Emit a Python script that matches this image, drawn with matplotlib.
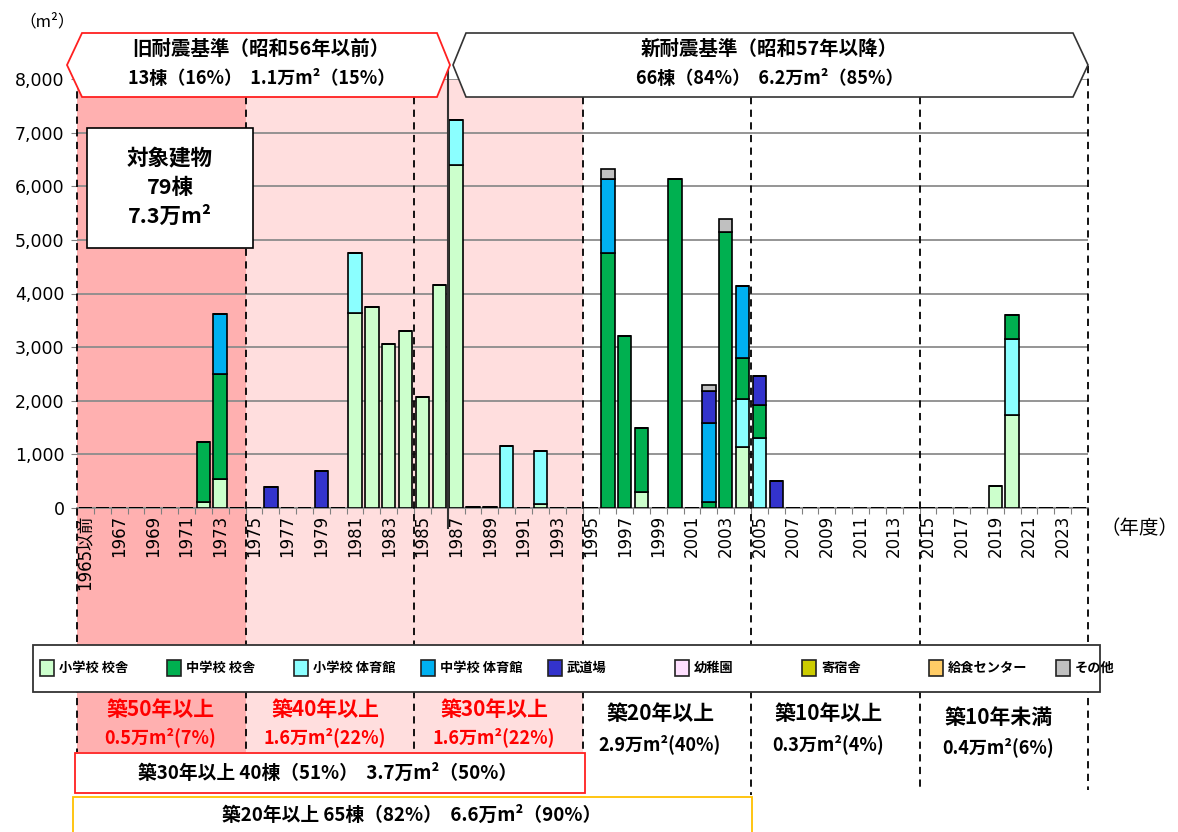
import matplotlib
matplotlib.use("Agg")
import matplotlib.pyplot as plt
from matplotlib.patches import Rectangle, Polygon
from matplotlib.lines import Line2D
import matplotlib.transforms as mtransforms
import numpy as np

plt.rcParams['font.family'] = ['Noto Sans CJK JP', 'DejaVu Sans']

W, H = 1178, 832

# ---------------- data ----------------
years = ["1965以前"] + [str(y) for y in range(1966, 2025)]
tick_labels = years[::2]

series_names = ["小学校 校舎", "中学校 校舎", "小学校 体育館", "中学校 体育館", "武道場",
                "幼稚園", "寄宿舎", "給食センター", "その他"]
series_colors = ["#CCFFCC", "#00B050", "#8BFFFF", "#00B0F0", "#3333CC",
                 "#FFE0FF", "#CCCC00", "#FFCC66", "#C0C0C0"]

sho_kousha = {"1972": 117, "1973": 545, "1981": 3640, "1982": 3750, "1983": 3050,
              "1984": 3300, "1985": 2075, "1986": 4150, "1987": 6390, "1988": 25,
              "1989": 25, "1992": 75, "1998": 290, "2004": 1130, "2019": 415, "2020": 1735}
chu_kousha = {"1972": 1115, "1973": 1955, "1996": 4760, "1997": 3200, "1998": 1195,
              "2000": 6135, "2002": 110, "2003": 5155, "2004": 775, "2005": 630, "2020": 435}
sho_taiiku = {"1981": 1120, "1987": 840, "1990": 1165, "1992": 990, "2004": 900,
              "2005": 1300, "2020": 1425}
chu_taiiku = {"1973": 1115, "1996": 1375, "2002": 1480, "2004": 1330}
budojo = {"1976": 400, "1979": 695, "2002": 590, "2005": 530, "2006": 505}
youchien = {}
kishukusha = {}
kyushoku = {}
sonota = {"1996": 185, "2002": 110, "2003": 235}

series_data = [sho_kousha, chu_kousha, sho_taiiku, chu_taiiku, budojo,
               youchien, kishukusha, kyushoku, sonota]
# stacking order bottom -> top
stack_order = [0, 2, 1, 3, 4, 5, 6, 7, 8]

# ---------------- figure ----------------
fig = plt.figure(figsize=(W / 100, H / 100), dpi=100)
ax = fig.add_axes([77 / W, 1 - 508 / H, 1011 / W, 429 / H])
ax.patch.set_visible(False)


def fx(p):
    return p / W


def fy(p):
    return 1 - p / H


x = np.arange(len(years))
bottom = np.zeros(len(years))
for si in stack_order:
    vals = np.array([series_data[si].get(y, 0) for y in years], dtype=float)
    ax.bar(x, vals, width=0.8, bottom=bottom, color=series_colors[si],
           edgecolor="black", linewidth=1.2, zorder=3)
    bottom += vals

ax.set_xlim(-0.5, len(years) - 0.5)
ax.set_ylim(0, 8000)
ax.set_yticks(range(0, 8001, 1000))
ax.set_yticklabels([f"{v:,}" for v in range(0, 8001, 1000)], fontsize=12.5,
                   family=['DejaVu Sans'])
ax.tick_params(axis='y', length=4, color='#808080', pad=5)
ax.set_xticks(np.arange(-0.5, len(years), 1.0))
ax.set_xticklabels([])
ax.tick_params(axis='x', which='major', length=4, color='#808080')
ax.set_xticks(x[::2], minor=True)
ax.set_xticklabels(tick_labels, minor=True, rotation=90, fontsize=12,
                   family=['DejaVu Sans', 'Noto Sans CJK JP'])
ax.tick_params(axis='x', which='minor', length=0, pad=5)
ax.set_axisbelow(True)
ax.yaxis.grid(True, color='#8c8c8c', linewidth=1.3)
for s in ["top", "right", "left"]:
    ax.spines[s].set_visible(False)
ax.spines["bottom"].set_color('#8c8c8c')
ax.spines["bottom"].set_linewidth(1.3)

blend = mtransforms.blended_transform_factory(ax.transData, fig.transFigure)

# shaded age bands
ax.add_patch(Rectangle((-0.5, fy(752)), 10, fy(79) - fy(752), transform=blend,
                       facecolor="#FFB0B0", edgecolor="none", clip_on=False, zorder=0.1))
ax.add_patch(Rectangle((9.5, fy(752)), 20, fy(79) - fy(752), transform=blend,
                       facecolor="#FFDEDE", edgecolor="none", clip_on=False, zorder=0.1))

# dashed separators
dash_specs = [(-0.5, 66, 752), (9.5, 97, 752), (19.5, 97, 752), (29.5, 97, 752),
              (39.5, 97, 795), (49.5, 97, 790), (59.5, 66, 790)]
for xv, y0, y1 in dash_specs:
    ax.add_line(Line2D([xv, xv], [fy(y0), fy(y1)], transform=blend, color="black",
                       linewidth=1.3, linestyle=(0, (4, 3)), clip_on=False, zorder=4))
ax.add_line(Line2D([21.5, 21.5], [fy(66), fy(528)], transform=blend, color="#333333",
                   linewidth=1.5, clip_on=False, zorder=4))

# banners
old_pts = [(82, 33), (437, 33), (450, 65), (437, 97), (82, 97), (67, 65)]
new_pts = [(466, 33), (1073, 33), (1088, 65), (1073, 97), (466, 97), (453, 65)]
fig.add_artist(Polygon([(fx(a), fy(b)) for a, b in old_pts], closed=True,
                       facecolor="white", edgecolor="#FF2020", linewidth=1.3,
                       transform=fig.transFigure, zorder=5))
fig.add_artist(Polygon([(fx(a), fy(b)) for a, b in new_pts], closed=True,
                       facecolor="white", edgecolor="#333333", linewidth=1.2,
                       transform=fig.transFigure, zorder=5))
fig.text(fx(261), fy(49), "旧耐震基準（昭和56年以前）", ha="center", va="center",
         fontsize=14, fontweight="bold", zorder=6)
fig.text(fx(262), fy(78), "13棟（16%）  1.1万m²（15%）", ha="center", va="center",
         fontsize=13, fontweight="bold", zorder=6)
fig.text(fx(769), fy(49), "新耐震基準（昭和57年以降）", ha="center", va="center",
         fontsize=14, fontweight="bold", zorder=6)
fig.text(fx(770), fy(78), "66棟（84%）  6.2万m²（85%）", ha="center", va="center",
         fontsize=13, fontweight="bold", zorder=6)

# target buildings box
fig.add_artist(Rectangle((fx(87), fy(248)), fx(253) - fx(87), fy(128) - fy(248),
                         facecolor="white", edgecolor="black", linewidth=1.2,
                         transform=fig.transFigure, zorder=5))
for txt, yy in [("対象建物", 158), ("79棟", 188), ("7.3万m²", 216)]:
    fig.text(fx(170), fy(yy), txt, ha="center", va="center", fontsize=15.5,
             fontweight="bold", zorder=6)

# axis unit labels
fig.text(fx(47), fy(22), "（m²）", ha="center", va="center", fontsize=12)
fig.text(fx(1140), fy(528), "（年度）", ha="center", va="center", fontsize=14)

# legend (manual)
fig.add_artist(Rectangle((fx(33), fy(692)), fx(1100) - fx(33), fy(645) - fy(692),
                         facecolor="white", edgecolor="#333333", linewidth=1.3,
                         transform=fig.transFigure, zorder=5))
for i, (nm, col) in enumerate(zip(series_names, series_colors)):
    left = 40 + 127 * i
    fig.add_artist(Rectangle((fx(left), fy(676)), fx(14), fy(660) - fy(676),
                             facecolor=col, edgecolor="#222222", linewidth=1.2,
                             transform=fig.transFigure, zorder=6))
    fig.text(fx(left + 19), fy(668), nm, ha="left", va="center", fontsize=9.5,
             fontweight="bold", zorder=6)

# bottom annotations
age_labels = [("築50年以上", "0.5万m²(7%)", 160, "#FF0000", 709, 737),
              ("築40年以上", "1.6万m²(22%)", 325, "#FF0000", 709, 737),
              ("築30年以上", "1.6万m²(22%)", 494, "#FF0000", 709, 737),
              ("築20年以上", "2.9万m²(40%)", 660, "black", 714, 744),
              ("築10年以上", "0.3万m²(4%)", 828, "black", 714, 744),
              ("築10年未満", "0.4万m²(6%)", 998, "black", 718, 747)]
for t1, t2, cx, col, y1, y2 in age_labels:
    fig.text(fx(cx), fy(y1), t1, ha="center", va="center", fontsize=15,
             fontweight="bold", color=col, zorder=6)
    fig.text(fx(cx), fy(y2), t2, ha="center", va="center", fontsize=13,
             fontweight="bold", color=col, zorder=6)

fig.add_artist(Rectangle((fx(75), fy(793)), fx(585) - fx(75), fy(753) - fy(793),
                         facecolor="white", edgecolor="#FF2020", linewidth=1.3,
                         transform=fig.transFigure, zorder=5))
fig.text(fx(328), fy(773), "築30年以上 40棟（51%）  3.7万m²（50%）", ha="center",
         va="center", fontsize=13.5, fontweight="bold", zorder=6)
fig.add_artist(Rectangle((fx(73), fy(845)), fx(752) - fx(73), fy(797) - fy(845),
                         facecolor="white", edgecolor="#FFC000", linewidth=1.3,
                         transform=fig.transFigure, zorder=5))
fig.text(fx(412), fy(815), "築20年以上 65棟（82%）  6.6万m²（90%）", ha="center",
         va="center", fontsize=13.5, fontweight="bold", zorder=6)

fig.savefig("out.png", dpi=100)
